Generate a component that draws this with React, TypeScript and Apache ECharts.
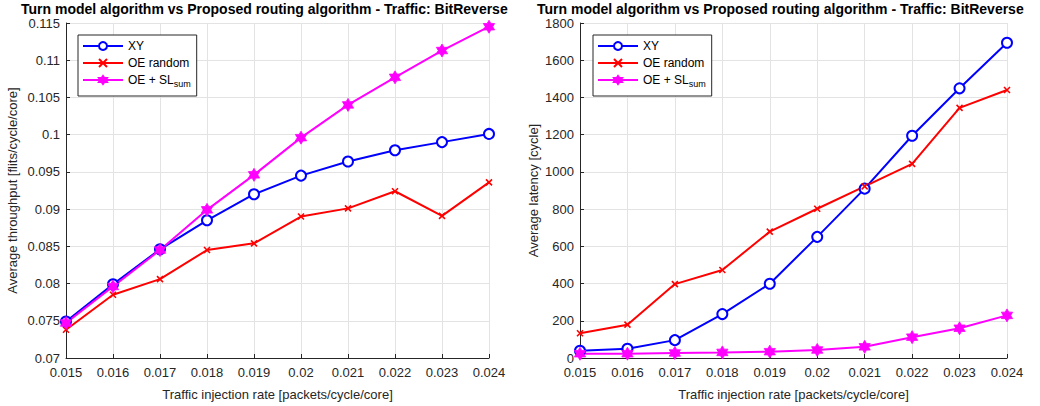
import React, { useEffect, useRef } from "react";
import * as echarts from "echarts";

const injectionRates = [0.015, 0.016, 0.017, 0.018, 0.019, 0.02, 0.021, 0.022, 0.023, 0.024];

const throughputXY = [0.0749, 0.0799, 0.0846, 0.0885, 0.0920, 0.0945, 0.0964, 0.0979, 0.0990, 0.1001];
const throughputOE = [0.0738, 0.0785, 0.0806, 0.0845, 0.0854, 0.0890, 0.0901, 0.0924, 0.0891, 0.0936];
const throughputSL = [0.0747, 0.0796, 0.0845, 0.0899, 0.0946, 0.0996, 0.1040, 0.1077, 0.1113, 0.1145];

const latencyXY = [39, 50, 96, 236, 399, 651, 910, 1194, 1449, 1694];
const latencyOE = [133, 179, 397, 473, 679, 802, 922, 1043, 1344, 1440];
const latencySL = [23, 23, 27, 30, 34, 43, 60, 112, 160, 229];

const seriesNames = ["XY", "OE random", "OE + SL_sum"];
const titleText = "Turn model algorithm vs Proposed routing algorithm - Traffic: BitReverse";
const xAxisName = "Traffic injection rate [packets/cycle/core]";
const yNames = ["Average throughput [flits/cycle/core]", "Average latency [cycle]"];

const FONT = "'Liberation Sans', Arial, Helvetica, sans-serif";
const AX = "#262626";
const GRID = "#e3e3e3";

function hexagramPath(): string {
  const pts: string[] = [];
  for (let k = 0; k < 12; k++) {
    const a = ((-90 + k * 30) * Math.PI) / 180;
    const r = k % 2 === 0 ? 50 : 28.87;
    pts.push(`${(50 + r * Math.cos(a)).toFixed(2)},${(50 + r * Math.sin(a)).toFixed(2)}`);
  }
  return "path://M" + pts.join("L") + "Z";
}
const STAR = hexagramPath();
const CROSS = "path://M0,0L10,10M0,10L10,0";

const fmt3 = (v: number) => String(parseFloat(v.toFixed(4)));
const fmtInt = (v: number) => String(Math.round(v));

function pairs(vals: number[]) {
  return injectionRates.map((x, i) => [x, vals[i]]);
}

function makeSeries(idx: number, xy: number[], oe: number[], sl: number[]) {
  return [
    {
      name: seriesNames[0],
      type: "line",
      xAxisIndex: idx,
      yAxisIndex: idx,
      data: pairs(xy),
      symbol: "emptyCircle",
      symbolSize: 10,
      lineStyle: { color: "#0000ff", width: 2 },
      itemStyle: { color: "#0000ff", borderColor: "#0000ff", borderWidth: 1.8 },
    },
    {
      name: seriesNames[1],
      type: "line",
      xAxisIndex: idx,
      yAxisIndex: idx,
      data: pairs(oe),
      symbol: CROSS,
      symbolSize: 6,
      lineStyle: { color: "#ff0000", width: 2 },
      itemStyle: { color: "#ff0000", borderColor: "#ff0000", borderWidth: 1.6 },
    },
    {
      name: seriesNames[2],
      type: "line",
      xAxisIndex: idx,
      yAxisIndex: idx,
      data: pairs(sl),
      symbol: STAR,
      symbolSize: 13,
      symbolKeepAspect: true,
      lineStyle: { color: "#ff00ff", width: 2 },
      itemStyle: { color: "#ff00ff", borderColor: "#ff00ff", borderWidth: 0.8 },
    },
  ];
}

function xAxis(gridIndex: number) {
  return {
    type: "value",
    gridIndex,
    min: 0.015,
    max: 0.024,
    interval: 0.001,
    name: xAxisName,
    nameLocation: "middle",
    nameGap: 30,
    nameTextStyle: { color: AX, fontSize: 13, fontFamily: FONT },
    axisLine: { onZero: false, lineStyle: { color: AX, width: 1 } },
    axisTick: { inside: true, length: 4, lineStyle: { color: AX } },
    axisLabel: { color: AX, fontSize: 13, fontFamily: FONT, margin: 8, formatter: fmt3 },
    splitLine: { show: true, lineStyle: { color: GRID, width: 1 } },
  };
}

function legend(left: number) {
  return {
    left,
    top: 35,
    orient: "vertical",
    itemWidth: 40,
    itemHeight: 10,
    itemGap: 5,
    padding: [5, 6, 8, 4],
    borderColor: AX,
    borderWidth: 1,
    backgroundColor: "#ffffff",
    data: seriesNames,
    textStyle: {
      color: "#000",
      fontSize: 12,
      fontFamily: FONT,
      rich: {
        sub: { fontSize: 9, fontFamily: FONT, color: "#000", padding: [7, 0, 0, 0] },
      },
    },
    formatter: (name: string) => (name === "OE + SL_sum" ? "OE + SL{sub|sum}" : name),
  };
}

const titleStyle = { fontSize: 14, lineHeight: 14, fontWeight: "bold", color: "#000", fontFamily: FONT };

export default function App() {
  const ref = useRef<HTMLDivElement>(null);
  useEffect(() => {
    if (!ref.current) return;
    const chart = echarts.init(ref.current, null, { renderer: "svg" });
    chart.setOption({
      animation: false,
      backgroundColor: "#ffffff",
      title: [
        { text: titleText, left: 21, top: 0, padding: [2, 0, 0, 0], textStyle: titleStyle },
        { text: titleText, left: 537, top: 0, padding: [2, 0, 0, 0], textStyle: titleStyle },
      ],
      legend: [legend(78), legend(593)],
      grid: [
        { left: 66, top: 23, width: 423, height: 335 },
        { left: 580, top: 23, width: 427, height: 337 },
      ],
      xAxis: [xAxis(0), xAxis(1)],
      yAxis: [
        {
          type: "value",
          gridIndex: 0,
          min: 0.07,
          max: 0.115,
          interval: 0.005,
          name: yNames[0],
          nameLocation: "middle",
          nameGap: 47,
          nameTextStyle: { color: AX, fontSize: 13, fontFamily: FONT },
          axisLine: { show: true, lineStyle: { color: AX, width: 1 } },
          axisTick: { show: true, inside: true, length: 4, lineStyle: { color: AX } },
          axisLabel: { color: AX, fontSize: 13, fontFamily: FONT, margin: 6, formatter: fmt3 },
          splitLine: { show: true, lineStyle: { color: GRID, width: 1 } },
        },
        {
          type: "value",
          gridIndex: 1,
          min: 0,
          max: 1800,
          interval: 200,
          name: yNames[1],
          nameLocation: "middle",
          nameGap: 40,
          nameTextStyle: { color: AX, fontSize: 13, fontFamily: FONT },
          axisLine: { show: true, lineStyle: { color: AX, width: 1 } },
          axisTick: { show: true, inside: true, length: 4, lineStyle: { color: AX } },
          axisLabel: { color: AX, fontSize: 13, fontFamily: FONT, margin: 6, formatter: fmtInt },
          splitLine: { show: true, lineStyle: { color: GRID, width: 1 } },
        },
      ],
      series: [
        ...makeSeries(0, throughputXY, throughputOE, throughputSL),
        ...makeSeries(1, latencyXY, latencyOE, latencySL),
      ],
    });
    return () => chart.dispose();
  }, []);
  return (
    <div
      ref={ref}
      style={{ position: "absolute", left: 0, top: 0, width: 1040, height: 406, background: "#fff" }}
    />
  );
}
